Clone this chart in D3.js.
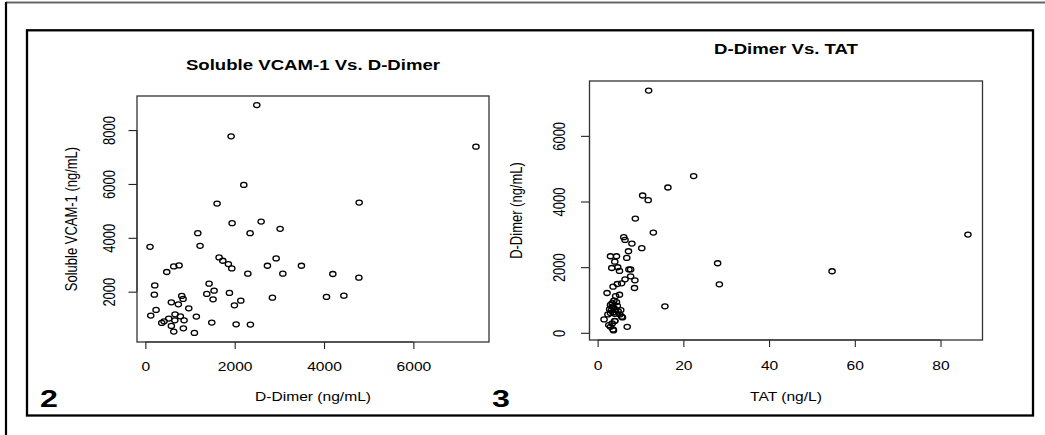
<!DOCTYPE html>
<html>
<head>
<meta charset="utf-8">
<script src="https://cdn.jsdelivr.net/npm/d3@7"></script>
<style>
  body { margin: 0; background: #fff; }
  svg text { font-family: "Liberation Sans", Arial, Helvetica, sans-serif; fill: #000; }
</style>
</head>
<body>
<div id="graph"></div>
<script>
// panel 2 : soluble VCAM-1 vs D-Dimer
var dimerL = [2495,1920,7401,2204,1606,4787,1942,2592,3017,1174,
              2345,105,1225,1651,1734,1859,1935,2928,2733,3494,
              3078,2294,4197,4780,479,636,755,211,202,1427,
              1375,1539,1516,1882,2137,1994,2845,4055,4444,815,
              845,582,739,972,240,121,1142,665,784,524,
              659,867,419,367,582,851,636,1098,1487,2032,2352];
var vcam = [8927,7767,7383,5963,5271,5308,4545,4604,4334,4174,
            4174,3667,3704,3271,3148,3026,2863,3234,2963,2963,
            2667,2667,2656,2519,2730,2937,2975,2234,1889,2296,
            1915,2037,1715,1952,1667,1493,1778,1804,1852,1841,
            1730,1604,1530,1382,1322,1111,1074,1159,1085,1000,
            937,937,900,841,730,641,519,470,852,789,778];
var ticksXL = [0, 2000, 4000, 6000];
var ticksYL = [2000, 4000, 6000, 8000];

// panel 3 : D-Dimer vs TAT
var tat = [11.9,22.4,16.4,10.5,11.8,8.8,13.0,86.4,6.1,6.4,
           8.0,10.3,7.2,6.8,3.0,4.4,4.0,3.3,4.7,5.1,
           28.0,54.7,7.3,7.7,28.4,8.7,8.6,7.7,6.4,5.6,
           4.6,3.6,2.2,5.1,4.2,15.7,4.4,3.8,5.4,5.8,
           4.0,3.4,6.9,3.0,3.6,2.6,1.5,3.0,3.4,3.8,
           4.2,3.2,3.6,4.0,4.6,2.8,3.4,4.8,5.2,2.4,
           3.0,5.6,4.0,3.7];
var dimerR = [7379,4775,4427,4183,4042,3480,3053,2992,2912,2830,
              2717,2577,2485,2281,2332,2332,2168,1975,1997,1884,
              2119,1875,1930,1930,1477,1600,1365,1722,1630,1508,
              1487,1404,1212,1160,1120,806,937,977,693,470,
              366,287,183,183,104,235,409,850,800,760,
              700,680,620,580,820,720,900,650,560,560,
              600,489,357,73];
var ticksXR = [0, 20, 40, 60, 80];
var ticksYR = [0, 2000, 4000, 6000];

var W = 1045, H = 435;
var sx = 1.2; // picture is stretched sideways, text follows

var svg = d3.select("#graph").append("svg")
    .attr("width", W).attr("height", H);

// frames
svg.append("line").attr("x1", 6).attr("y1", 2.5).attr("x2", W).attr("y2", 2.5)
    .attr("stroke", "#666").attr("stroke-width", 2);
svg.append("line").attr("x1", 6).attr("y1", 2).attr("x2", 6).attr("y2", H)
    .attr("stroke", "#000").attr("stroke-width", 2.2);
svg.append("rect").attr("x", 27).attr("y", 30.3).attr("width", 1006).attr("height", 385.2)
    .attr("fill", "none").attr("stroke", "#000").attr("stroke-width", 2.3);

// R style padding: data range + 4%
function pad(ext) {
    var d = (ext[1] - ext[0]) * 0.04;
    return [ext[0] - d, ext[1] + d];
}

function panel(p) {
    var x = d3.scaleLinear().domain(pad(d3.extent(p.xs))).range([p.left, p.right]);
    var y = d3.scaleLinear().domain(pad(d3.extent(p.ys))).range([p.bottom, p.top]);
    var g = svg.append("g");

    // x axis
    var ax = g.append("g")
        .attr("transform", "translate(0," + p.bottom + ")")
        .call(d3.axisBottom(x).tickValues(p.xt).tickSize(7).tickSizeOuter(0).tickFormat(d3.format("d")));
    ax.selectAll("text")
        .attr("y", null).attr("dy", null)
        .attr("transform", "translate(0," + p.xlabOff + ") scale(" + sx + ",1)")
        .style("font-size", "13px");

    // y axis, labels turned like R does
    var ay = g.append("g")
        .attr("transform", "translate(" + p.left + ",0)")
        .call(d3.axisLeft(y).tickValues(p.yt).tickSize(8.5).tickSizeOuter(0).tickFormat(d3.format("d")));
    ay.selectAll("text")
        .attr("x", null).attr("dy", null)
        .attr("text-anchor", "middle")
        .attr("transform", "translate(" + (-p.ylabOff) + ",0) scale(" + sx + ",1) rotate(-90)")
        .style("font-size", "13px");
    g.selectAll(".domain").remove();
    g.selectAll(".tick line").attr("stroke", "#222").attr("stroke-width", 1.1);

    // axis lines from first to last tick
    g.append("line")
        .attr("x1", x(p.xt[0])).attr("x2", x(p.xt[p.xt.length - 1]))
        .attr("y1", p.bottom).attr("y2", p.bottom)
        .attr("stroke", "#222").attr("stroke-width", 1.1);
    g.append("line")
        .attr("y1", y(p.yt[0])).attr("y2", y(p.yt[p.yt.length - 1]))
        .attr("x1", p.left).attr("x2", p.left)
        .attr("stroke", "#222").attr("stroke-width", 1.1);

    // box
    g.append("rect")
        .attr("x", p.left).attr("y", p.top)
        .attr("width", p.right - p.left).attr("height", p.bottom - p.top)
        .attr("fill", "none").attr("stroke", "#333").attr("stroke-width", 1.3);

    // points
    g.selectAll("ellipse.pt")
        .data(p.xs.map(function(d, i) { return [d, p.ys[i]]; }))
        .enter().append("ellipse")
        .attr("class", "pt")
        .attr("cx", function(d) { return x(d[0]); })
        .attr("cy", function(d) { return y(d[1]); })
        .attr("rx", 3.15).attr("ry", 2.5)
        .attr("fill", "none").attr("stroke", "#000").attr("stroke-width", 1.3);

    var cx = (p.left + p.right) / 2, cy = (p.top + p.bottom) / 2;
    // title
    g.append("text")
        .attr("text-anchor", "middle")
        .attr("transform", "translate(" + cx + "," + p.titleY + ") scale(" + sx + ",1)")
        .style("font-size", "15.5px").style("font-weight", "bold")
        .text(p.title);
    // axis titles
    g.append("text")
        .attr("text-anchor", "middle")
        .attr("transform", "translate(" + cx + "," + p.xtitleY + ") scale(" + sx + ",1)")
        .style("font-size", "13px")
        .text(p.xtitle);
    g.append("text")
        .attr("text-anchor", "middle")
        .attr("transform", "translate(" + p.ytitleX + "," + cy + ") scale(" + sx + ",1) rotate(-90)")
        .style("font-size", "13px")
        .text(p.ytitle);
    // panel number
    g.append("text")
        .attr("transform", "translate(" + p.numX + ",407) scale(1.4,1)")
        .style("font-size", "23px").style("font-weight", "bold")
        .text(p.num);
}

panel({
    xs: dimerL, ys: vcam, xt: ticksXL, yt: ticksYL,
    left: 137, right: 489, top: 96, bottom: 342,
    xlabOff: 28.5, ylabOff: 22,
    title: "Soluble VCAM-1 Vs. D-Dimer", titleY: 69.5,
    xtitle: "D-Dimer (ng/mL)", xtitleY: 401,
    ytitle: "Soluble VCAM-1 (ng/mL)", ytitleX: 77,
    num: "2", numX: 40
});

panel({
    xs: tat, ys: dimerR, xt: ticksXR, yt: ticksYR,
    left: 589.5, right: 982.5, top: 81, bottom: 340,
    xlabOff: 30, ylabOff: 24.5,
    title: "D-Dimer Vs. TAT", titleY: 54,
    xtitle: "TAT (ng/L)", xtitleY: 401,
    ytitle: "D-Dimer (ng/mL)", ytitleX: 522,
    num: "3", numX: 492
});
</script>
</body>
</html>
